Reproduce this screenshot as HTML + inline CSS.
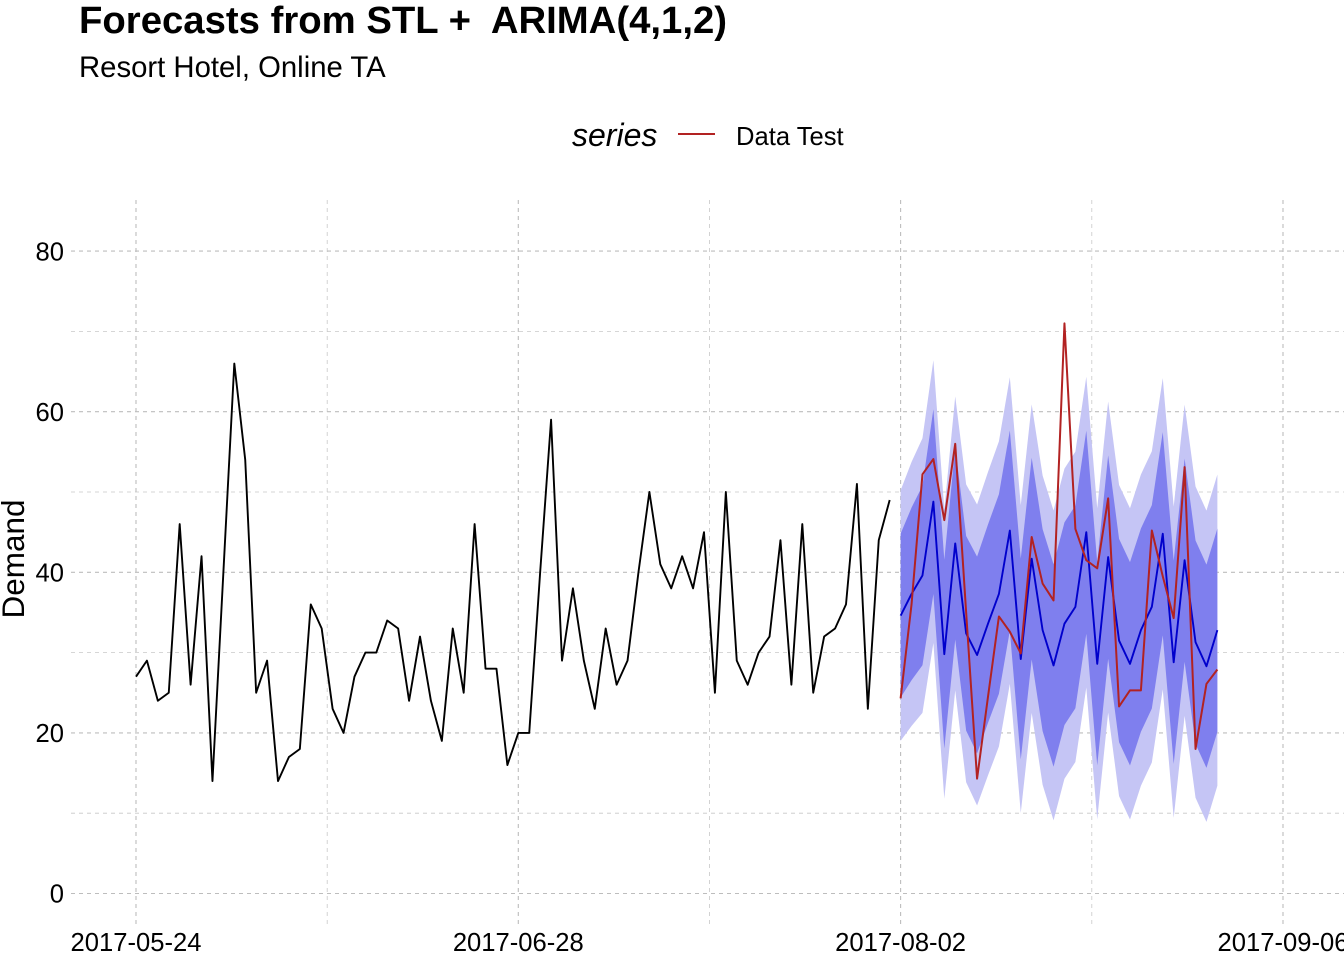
<!DOCTYPE html>
<html>
<head>
<meta charset="utf-8">
<style>
  html, body { margin: 0; padding: 0; background: #ffffff; }
  svg { display: block; }
  text { font-family: "Liberation Sans", Arial, sans-serif; fill: #000; }
</style>
</head>
<body>
<svg width="1344" height="960" viewBox="0 0 1344 960" xmlns="http://www.w3.org/2000/svg">
  <rect x="0" y="0" width="1344" height="960" fill="#ffffff"/>

  <!-- minor horizontal gridlines (10,30,50,70) -->
  <g stroke="#c8c8c8" stroke-width="0.8" stroke-dasharray="4,4" fill="none">
    <line x1="71" y1="813.2" x2="1344" y2="813.2"/>
    <line x1="71" y1="652.6" x2="1344" y2="652.6"/>
    <line x1="71" y1="492.0" x2="1344" y2="492.0"/>
    <line x1="71" y1="331.4" x2="1344" y2="331.4"/>
    <!-- minor vertical -->
    <line x1="327.2" y1="200" x2="327.2" y2="927"/>
    <line x1="709.5" y1="200" x2="709.5" y2="927"/>
    <line x1="1091.8" y1="200" x2="1091.8" y2="927"/>
  </g>
  <!-- major gridlines -->
  <g stroke="#bdbdbd" stroke-width="1.1" stroke-dasharray="4,4" fill="none">
    <line x1="71" y1="893.5" x2="1344" y2="893.5"/>
    <line x1="71" y1="732.9" x2="1344" y2="732.9"/>
    <line x1="71" y1="572.3" x2="1344" y2="572.3"/>
    <line x1="71" y1="411.7" x2="1344" y2="411.7"/>
    <line x1="71" y1="251.1" x2="1344" y2="251.1"/>
    <line x1="136" y1="200" x2="136" y2="927"/>
    <line x1="518.3" y1="200" x2="518.3" y2="927"/>
    <line x1="900.6" y1="200" x2="900.6" y2="927"/>
    <line x1="1283" y1="200" x2="1283" y2="927"/>
  </g>

  <!-- data in data-coordinates: x = day index from 2017-05-24, y = value -->
  <g transform="translate(136,893.5) scale(10.923,-8.03)">
    <!-- 95% band -->
    <polygon fill="#c5c5f5" stroke="none" points="
      70,50.2 71,53.74 72,56.7 73,66.4 74,47.8 75,61.91 76,50.95 77,48.44 78,52.49 79,56.3
      80,64.29 81,48.36 82,60.91 83,52.05 84,47.69 85,52.91 86,55.03 87,64.35 88,47.96 89,61.27
      90,50.87 91,47.98 92,52.18 93,55.08 94,64.18 95,48.18 96,60.88 97,50.68 98,47.68 99,52.18
      99,13.42 98,8.92 97,11.92 96,22.12 95,9.42 94,25.42 93,16.32 92,13.42 91,9.22 90,12.13
      89,22.53 88,9.24 87,25.65 86,16.37 85,14.29 84,9.11 83,13.55 82,22.49 81,10.04 80,26.11
      79,18.3 78,14.71 77,10.96 76,13.85 75,25.29 74,11.8 73,31.2 72,22.5 71,20.86 70,19.0"/>
    <!-- 80% band -->
    <polygon fill="#7f7fee" stroke="none" points="
      70,44.8 71,48.05 72,50.78 73,60.3 74,41.56 75,55.57 76,44.52 77,41.95 78,45.95 79,49.72
      80,57.68 81,41.72 82,54.26 83,45.38 84,41.01 85,46.22 86,48.33 87,57.65 88,41.25 89,54.56
      90,44.16 91,41.26 92,45.46 93,48.36 94,57.46 95,41.46 96,54.16 97,43.96 98,40.96 99,45.46
      99,20.14 98,15.64 97,18.64 96,28.84 95,16.14 94,32.14 93,23.04 92,20.14 91,15.94 90,18.84
      89,29.24 88,15.95 87,32.35 86,23.07 85,20.98 84,15.79 83,20.22 82,29.14 81,16.68 80,32.72
      79,24.88 78,21.25 77,17.45 76,20.28 75,31.63 74,18.04 73,37.3 72,28.42 71,26.55 70,24.4"/>

    <!-- history (black) -->
    <polyline fill="none" stroke="#000000" stroke-width="1.9" stroke-linejoin="round" vector-effect="non-scaling-stroke" points="
      0,27 1,29 2,24 3,25 4,46 5,26 6,42 7,14 8,40 9,66 10,54 11,25 12,29 13,14 14,17 15,18 16,36 17,33 18,23 19,20
      20,27 21,30 22,30 23,34 24,33 25,24 26,32 27,24 28,19 29,33 30,25 31,46 32,28 33,28 34,16 35,20 36,20 37,40 38,59 39,29
      40,38 41,29 42,23 43,33 44,26 45,29 46,40 47,50 48,41 49,38 50,42 51,38 52,45 53,25 54,50 55,29 56,26 57,30 58,32 59,44
      60,26 61,46 62,25 63,32 64,33 65,36 66,51 67,23 68,44 69,49"/>

    <!-- forecast mean (blue) -->
    <polyline fill="none" stroke="#0000cc" stroke-width="1.9" stroke-linejoin="round" vector-effect="non-scaling-stroke" points="
      70,34.6 71,37.3 72,39.6 73,48.8 74,29.8 75,43.6 76,32.4 77,29.7 78,33.6 79,37.3
      80,45.2 81,29.2 82,41.7 83,32.8 84,28.4 85,33.6 86,35.7 87,45.0 88,28.6 89,41.9
      90,31.5 91,28.6 92,32.8 93,35.7 94,44.8 95,28.8 96,41.5 97,31.3 98,28.3 99,32.8"/>

    <!-- data test (red) -->
    <polyline fill="none" stroke="#b22222" stroke-width="2" stroke-linejoin="round" vector-effect="non-scaling-stroke" points="
      70,24.3 71,36 72,52.2 73,54.1 74,46.5 75,56 76,35 77,14.3 78,24.5 79,34.5
      80,32.6 81,29.9 82,44.4 83,38.6 84,36.5 85,71 86,45.4 87,41.5 88,40.5 89,49.2
      90,23.3 91,25.3 92,25.3 93,45.2 94,39.5 95,34.3 96,53.1 97,18.0 98,26.1 99,27.9"/>
  </g>

  <!-- y tick labels -->
  <g font-size="25.6" text-anchor="end">
    <text x="64" y="902.5">0</text>
    <text x="64" y="742">20</text>
    <text x="64" y="581.5">40</text>
    <text x="64" y="421">60</text>
    <text x="64" y="260.3">80</text>
  </g>

  <!-- x tick labels -->
  <g font-size="25.6" text-anchor="middle">
    <text x="136" y="951">2017-05-24</text>
    <text x="518.3" y="951">2017-06-28</text>
    <text x="900.6" y="951">2017-08-02</text>
    <text x="1283" y="951">2017-09-06</text>
  </g>

  <!-- y axis title -->
  <text transform="translate(24,559) rotate(-90)" font-size="31.5" text-anchor="middle">Demand</text>

  <!-- title & subtitle -->
  <text x="79" y="33" font-size="38.3" font-weight="bold" style="white-space:pre" xml:space="preserve">Forecasts from STL +  ARIMA(4,1,2)</text>
  <text x="79" y="77" font-size="29.3">Resort Hotel, Online TA</text>

  <!-- legend -->
  <text x="572" y="146" font-size="32" font-style="italic">series</text>
  <line x1="678" y1="134" x2="715" y2="134" stroke="#b22222" stroke-width="1.9"/>
  <text x="736" y="145" font-size="25.6">Data Test</text>
</svg>
</body>
</html>
